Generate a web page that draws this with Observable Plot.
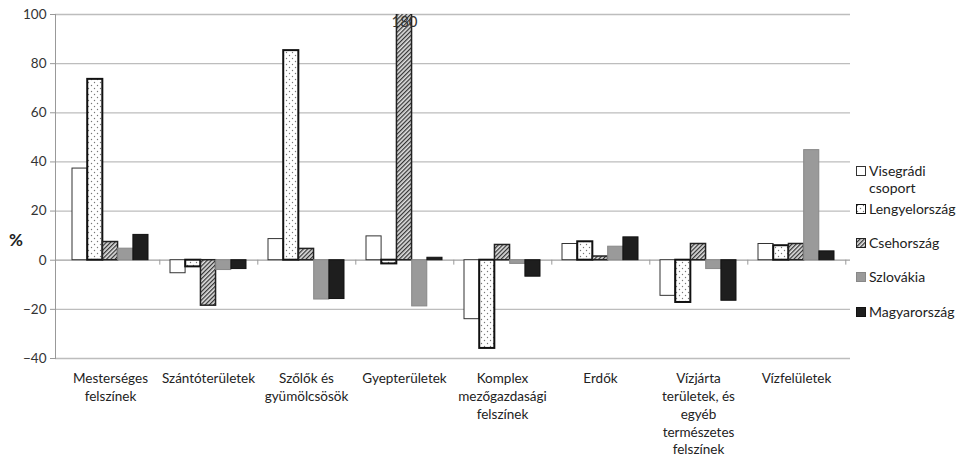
<!DOCTYPE html>
<html>
<head>
<meta charset="utf-8">
<script src="https://cdn.jsdelivr.net/npm/d3@7"></script>
<script src="https://cdn.jsdelivr.net/npm/@observablehq/plot@0.6"></script>
<style>
  html, body { margin: 0; padding: 0; background: white; }
  #wrap { position: relative; width: 958px; height: 458px; font-family: Lato, "Open Sans", sans-serif; color: #222; }
  #ylab { position: absolute; left: 9px; top: 229px; font-size: 17px; font-weight: 700; color: #222; }
  .leg { position: absolute; left: 856px; display: flex; align-items: flex-start; font-size: 14px; line-height: 17px; color: #222; }
  .leg svg { margin-top: 4px; margin-right: 3px; flex: none; }
</style>
</head>
<body>
<svg width="0" height="0" style="position:absolute">
  <defs>
    <pattern id="dots" patternUnits="userSpaceOnUse" width="6" height="6">
      <rect width="6" height="6" fill="white"></rect>
      <circle cx="1.5" cy="1.5" r="0.7" fill="#777"></circle>
      <circle cx="4.5" cy="4.5" r="0.7" fill="#777"></circle>
    </pattern>
    <pattern id="hatch" patternUnits="userSpaceOnUse" width="3" height="3" patternTransform="rotate(45)">
      <rect width="3" height="3" fill="#e0e0e0"></rect>
      <line x1="0.6" y1="0" x2="0.6" y2="3" stroke="#333" stroke-width="1.3"></line>
    </pattern>
  </defs>
</svg>
<div id="wrap">
  <div id="chart"></div>
  <div id="ylab">%</div>
  <div id="legend"></div>
</div>
<script>
const categories = [
  "Mesterséges\nfelszínek",
  "Szántóterületek",
  "Szőlők és\ngyümölcsösök",
  "Gyepterületek",
  "Komplex\nmezőgazdasági\nfelszínek",
  "Erdők",
  "Vízjárta\nterületek, és\negyéb\ntermészetes\nfelszínek",
  "Vízfelületek"
];
const series = ["Visegrádi csoport", "Lengyelország", "Csehország", "Szlovákia", "Magyarország"];
const visegradi = [37.3, -5.3, 8.6, 9.7, -24.0, 6.6, -14.5, 6.6];
const lengyel   = [73.6, -2.7, 85.3, -1.5, -35.9, 7.5, -17.2, 5.9];
const cseh      = [7.4, -18.5, 4.6, 180, 6.2, 1.5, 6.6, 6.6];
const szlovak   = [4.7, -4.0, -16.0, -18.8, -1.5, 5.5, -3.6, 44.8];
const magyar    = [10.3, -3.6, -15.8, 1.0, -6.7, 9.3, -16.5, 3.6];
const yTicks = [-40, -20, 0, 20, 40, 60, 80, 100];

const values = [visegradi, lengyel, cseh, szlovak, magyar];
const rows = categories.flatMap((c, i) => series.map((s, j) => ({cat: c, series: s, si: j, value: values[j][i]})));

const styles = [
  {fill: "white", stroke: "#333", strokeWidth: 1},
  {fill: "url(#dots)", stroke: "#111", strokeWidth: 2},
  {fill: "url(#hatch)", stroke: "#222", strokeWidth: 1.5},
  {fill: "#9a9a9a", stroke: "#888", strokeWidth: 1},
  {fill: "#1e1e1e", stroke: "#111", strokeWidth: 1}
];

const W = 958, H = 458, mL = 55, mR = 108, mT = 14, mB = 100;
const padIn = 0.228, padOut = 0.145;
const step = (W - mL - mR) / (categories.length - padIn + 2 * padOut);
const bw = step * (1 - padIn);
const barW = bw / series.length;

const barMarks = series.map((s, j) => Plot.barY(rows.filter(d => d.si === j), {
  x: "cat", y: "value",
  insetLeft: j * barW, insetRight: (series.length - 1 - j) * barW,
  clip: true,
  ...styles[j]
}));

const chart = Plot.plot({
  width: W, height: H,
  marginLeft: mL, marginRight: mR, marginTop: mT, marginBottom: mB,
  style: {fontFamily: "Lato, 'Open Sans', sans-serif", fontSize: "13px", color: "#222", background: "white"},
  x: {domain: categories, paddingInner: padIn, paddingOuter: padOut, label: null},
  y: {domain: [-40, 100], label: null},
  marks: [
    Plot.gridY(yTicks.filter(v => v !== 0), {stroke: "#bdbdbd", strokeOpacity: 1, strokeWidth: 1.3}),
    Plot.ruleY([0], {stroke: "#a0a0a0", strokeWidth: 1.3}),
    Plot.ruleX(categories, {x: d => d, dx: step / 2, y1: 0, y2: -2, stroke: "#999"}),
    ...barMarks,
    Plot.text(rows.filter(d => d.value > 100), {x: "cat", y: 100, text: d => String(d.value), dx: (2 - 2) * barW, dy: 8, fontSize: 15, fill: "#333"}),
    Plot.axisY(yTicks, {tickSize: 5, tickPadding: 4, stroke: "#999", fontSize: 13.5, fill: "#333"}),
    Plot.axisX({tickSize: 0, tickPadding: 12, fontSize: 13.5, lineHeight: 1.32, fill: "#222"}),
    Plot.frame({anchor: "left", stroke: "#999"})
  ]
});
document.getElementById("chart").appendChild(chart);

// legend
const legendTops = [162, 200, 234, 268, 303];
const legend = document.getElementById("legend");
series.forEach((s, j) => {
  const item = document.createElement("div");
  item.className = "leg";
  item.style.top = legendTops[j] + "px";
  const st = styles[j];
  const sw = `<svg width="10" height="10"><rect x="0.5" y="0.5" width="9" height="9" fill="${st.fill}" stroke="${st.stroke}" stroke-width="1"></rect></svg>`;
  const label = j === 0 ? "Visegrádi<br>csoport" : s;
  item.innerHTML = sw + `<span>${label}</span>`;
  legend.appendChild(item);
});
</script>
</body>
</html>
